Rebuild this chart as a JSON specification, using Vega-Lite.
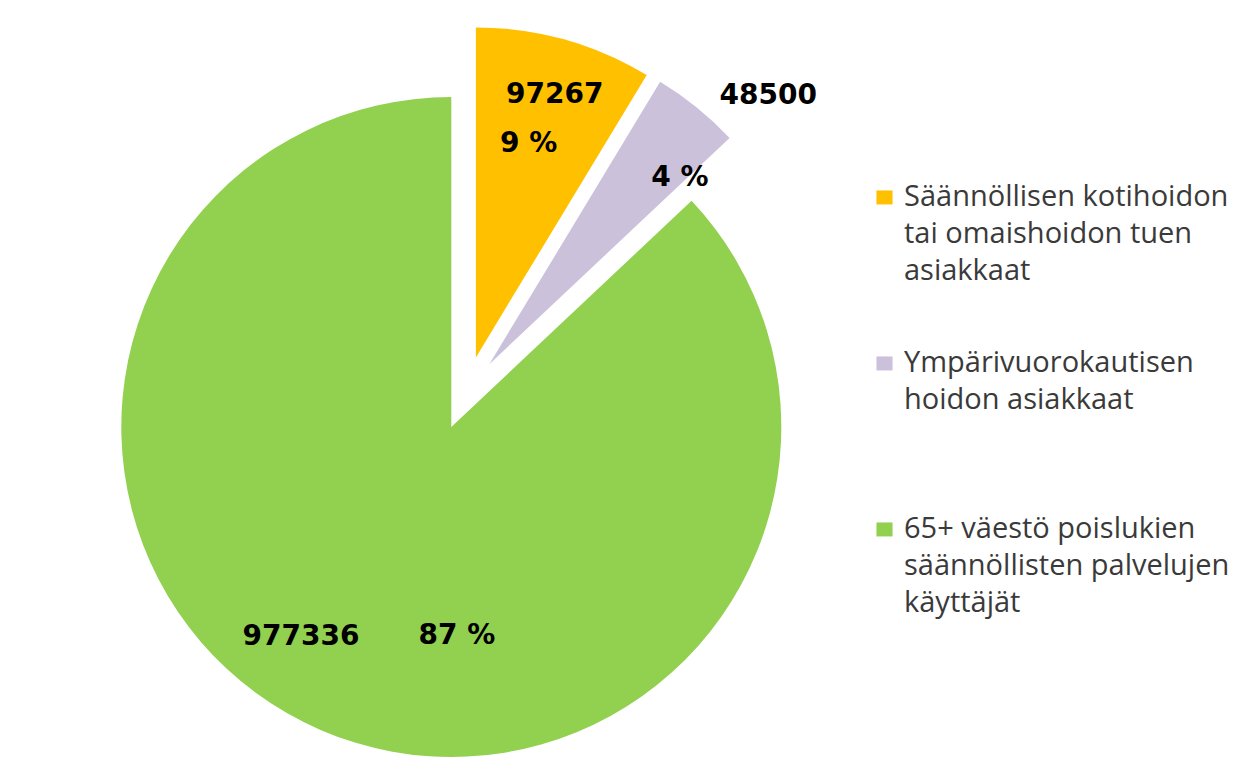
{
  "$schema": "https://vega.github.io/schema/vega-lite/v6.json",
  "width": 932,
  "height": 770,
  "padding": {"left": 0, "top": 8, "right": 320, "bottom": 0},
  "autosize": {"type": "none"},
  "background": "white",
  "config": {
    "view": {"stroke": null},
    "style": {"guide-label": {"lineHeight": 37}},
    "legend": {
      "orient": "none",
      "legendX": 870,
      "legendY": 183,
      "symbolType": "M-1.15,-2.15H1.15V-0.15H-1.15Z",
      "symbolSize": 196,
      "symbolStrokeWidth": 0,
      "labelFont": "Open Sans",
      "labelFontSize": 29,
      "labelColor": "#3a3a3a",
      "labelLimit": 500,
      "labelOffset": 5,
      "rowPadding": 62,
      "gridAlign": "all",
      "padding": 0,
      "labelBaseline": "alphabetic"
    }
  },
  "data": {
    "values": [
      {"idx": 0, "cat": "Säännöllisen kotihoidon\ntai omaishoidon tuen\nasiakkaat", "value": 97267, "pct": "9 %"},
      {"idx": 1, "cat": "Ympärivuorokautisen\nhoidon asiakkaat", "value": 48500, "pct": "4 %"},
      {"idx": 2, "cat": "65+ väestö poislukien\nsäännöllisten palvelujen\nkäyttäjät", "value": 977336, "pct": "87 %"}
    ]
  },
  "layer": [
    {
      "transform": [
        {"stack": "value", "groupby": [], "sort": [{"field": "idx", "order": "ascending"}], "as": ["v0", "v1"]},
        {"filter": "datum.idx == 0"}
      ],
      "mark": {"type": "arc", "radius": 330, "xOffset": 9.9, "yOffset": -35.6},
      "encoding": {
        "theta": {"field": "v0", "type": "quantitative", "stack": null, "scale": {"nice": false}},
        "theta2": {"field": "v1"},
        "color": {"field": "cat", "type": "nominal", "title": null,
          "legend": {"labelExpr": "split(datum.label, '\\n')"},
          "scale": {"domain": ["Säännöllisen kotihoidon\ntai omaishoidon tuen\nasiakkaat", "Ympärivuorokautisen\nhoidon asiakkaat", "65+ väestö poislukien\nsäännöllisten palvelujen\nkäyttäjät"], "range": ["#FFC000", "#CCC1DA", "#92D050"]}}
      }
    },
    {
      "transform": [
        {"stack": "value", "groupby": [], "sort": [{"field": "idx", "order": "ascending"}], "as": ["v0", "v1"]},
        {"filter": "datum.idx == 1"}
      ],
      "mark": {"type": "arc", "radius": 330, "xOffset": 23.3, "yOffset": -28.8},
      "encoding": {
        "theta": {"field": "v0", "type": "quantitative", "stack": null, "scale": {"nice": false}},
        "theta2": {"field": "v1"},
        "color": {"field": "cat", "type": "nominal", "title": null, "legend": {"labelExpr": "split(datum.label, '\\n')"}}
      }
    },
    {
      "transform": [
        {"stack": "value", "groupby": [], "sort": [{"field": "idx", "order": "ascending"}], "as": ["v0", "v1"]},
        {"filter": "datum.idx == 2"}
      ],
      "mark": {"type": "arc", "radius": 330, "xOffset": -14.7, "yOffset": 34.0},
      "encoding": {
        "theta": {"field": "v0", "type": "quantitative", "stack": null, "scale": {"nice": false}},
        "theta2": {"field": "v1"},
        "color": {"field": "cat", "type": "nominal", "title": null, "legend": {"labelExpr": "split(datum.label, '\\n')"}}
      }
    },
    {
      "mark": {"type": "text", "radius": 282, "xOffset": 9.9, "yOffset": -35.6, "dx": 3, "dy": 9, "font": "DejaVu Sans", "fontWeight": "bold", "fontSize": 28, "color": "#000000"},
      "encoding": {
        "theta": {"field": "value", "type": "quantitative", "stack": true},
        "order": {"field": "idx"},
        "text": {"condition": {"test": "datum.idx == 0", "field": "value", "type": "quantitative", "format": "d"}, "value": ""}
      }
    },
    {
      "mark": {"type": "text", "radius": 230, "xOffset": 9.9, "yOffset": -35.6, "dx": -9, "dy": 8, "font": "DejaVu Sans", "fontWeight": "bold", "fontSize": 28, "color": "#000000"},
      "encoding": {
        "theta": {"field": "value", "type": "quantitative", "stack": true},
        "order": {"field": "idx"},
        "text": {"condition": {"test": "datum.idx == 0", "field": "pct", "type": "nominal"}, "value": ""}
      }
    },
    {
      "mark": {"type": "text", "radius": 377, "xOffset": 23.3, "yOffset": -28.8, "dx": 42, "dy": 25, "font": "DejaVu Sans", "fontWeight": "bold", "fontSize": 28, "color": "#000000"},
      "encoding": {
        "theta": {"field": "value", "type": "quantitative", "stack": true},
        "order": {"field": "idx"},
        "text": {"condition": {"test": "datum.idx == 1", "field": "value", "type": "quantitative", "format": "d"}, "value": ""}
      }
    },
    {
      "mark": {"type": "text", "radius": 262, "xOffset": 23.3, "yOffset": -28.8, "dx": 26, "dy": 18, "font": "DejaVu Sans", "fontWeight": "bold", "fontSize": 28, "color": "#000000"},
      "encoding": {
        "theta": {"field": "value", "type": "quantitative", "stack": true},
        "order": {"field": "idx"},
        "text": {"condition": {"test": "datum.idx == 1", "field": "pct", "type": "nominal"}, "value": ""}
      }
    },
    {
      "mark": {"type": "text", "radius": 253, "xOffset": -14.7, "yOffset": 34.0, "dx": -50, "dy": -22, "font": "DejaVu Sans", "fontWeight": "bold", "fontSize": 28, "color": "#000000"},
      "encoding": {
        "theta": {"field": "value", "type": "quantitative", "stack": true},
        "order": {"field": "idx"},
        "text": {"condition": {"test": "datum.idx == 2", "field": "value", "type": "quantitative", "format": "d"}, "value": ""}
      }
    },
    {
      "mark": {"type": "text", "radius": 195, "xOffset": -14.7, "yOffset": 34.0, "dx": 83, "dy": 30, "font": "DejaVu Sans", "fontWeight": "bold", "fontSize": 28, "color": "#000000"},
      "encoding": {
        "theta": {"field": "value", "type": "quantitative", "stack": true},
        "order": {"field": "idx"},
        "text": {"condition": {"test": "datum.idx == 2", "field": "pct", "type": "nominal"}, "value": ""}
      }
    }
  ]
}
